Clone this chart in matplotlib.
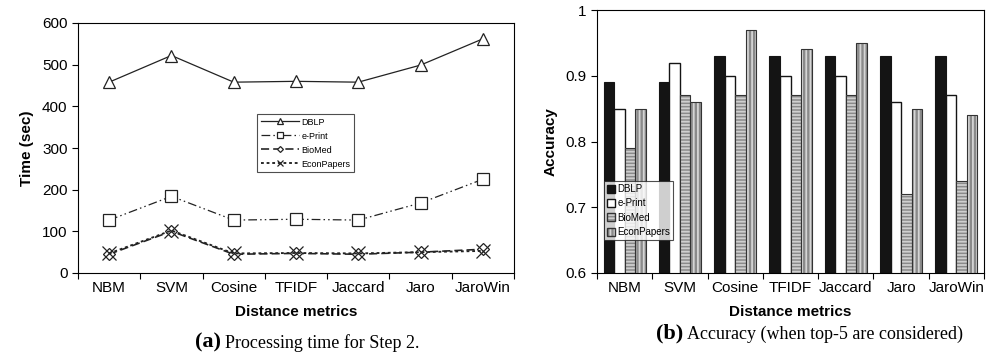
import matplotlib
matplotlib.use("Agg")
import matplotlib.pyplot as plt
import numpy as np
from matplotlib.patches import Patch
from matplotlib.ticker import FuncFormatter, FixedLocator

plt.rcParams['font.family'] = ['Liberation Sans', 'DejaVu Sans']

categories = ["NBM", "SVM", "Cosine", "TFIDF", "Jaccard", "Jaro", "JaroWin"]
series_names = ["DBLP", "e-Print", "BioMed", "EconPapers"]

time_dblp = [458, 522, 458, 460, 458, 499, 562]
time_eprint = [127, 184, 127, 129, 127, 168, 225]
time_biomed = [45, 100, 45, 47, 45, 50, 57]
time_econ = [47, 102, 47, 48, 47, 50, 53]

acc_dblp = [0.89, 0.89, 0.93, 0.93, 0.93, 0.93, 0.93]
acc_eprint = [0.85, 0.92, 0.90, 0.90, 0.90, 0.86, 0.87]
acc_biomed = [0.79, 0.87, 0.87, 0.87, 0.87, 0.72, 0.74]
acc_econ = [0.85, 0.86, 0.97, 0.94, 0.95, 0.85, 0.84]

W, H = 994, 355
fig = plt.figure(figsize=(W / 100, H / 100), dpi=100)
FS = 11

# ---------------- Left: processing time ----------------
ax1 = fig.add_axes([78 / W, 82 / H, 436 / W, 250 / H])
x = np.arange(len(categories))
lw = 0.9
ax1.plot(x, time_dblp, color='#222222', lw=lw, ls='-', marker='^', ms=9,
         mfc='white', mec='#222222', mew=0.9, label=series_names[0])
ax1.plot(x, time_eprint, color='#222222', lw=lw, ls=(0, (7, 2.5, 1.2, 2.5, 1.2, 2.5)),
         marker='s', ms=9, mfc='white', mec='#222222', mew=0.9, label=series_names[1])
ax1.plot(x, time_biomed, color='#222222', lw=lw * 1.3, ls=(0, (5, 2.5)),
         marker='D', ms=6, mfc='white', mec='#222222', mew=0.9, label=series_names[2])
ax1.plot(x, time_econ, color='#222222', lw=lw * 1.5, ls=(0, (1.5, 1.5)),
         marker='x', ms=10, mec='#222222', mew=0.9, label=series_names[3])
ax1.set_xlim(-0.5, len(categories) - 0.5)
ax1.set_ylim(0, 600)
ax1.set_yticks([0, 100, 200, 300, 400, 500, 600])
ax1.set_xticks(x)
ax1.set_xticklabels(categories)
ax1.xaxis.set_minor_locator(FixedLocator(np.arange(-0.5, len(categories), 1.0)))
ax1.tick_params(axis='x', which='major', length=0, labelsize=FS, pad=6)
ax1.tick_params(axis='x', which='minor', length=4, direction='out', width=0.8)
ax1.tick_params(axis='y', length=4, direction='out', labelsize=FS, width=0.8)
for s in ax1.spines.values():
    s.set_linewidth(0.8)
ax1.set_ylabel("Time (sec)", fontsize=FS, fontweight='bold', labelpad=6)
ax1.set_xlabel("Distance metrics", fontsize=FS, fontweight='bold', labelpad=7)
leg1 = ax1.legend(loc='upper left', bbox_to_anchor=((257 - 78) / 436, (273 - 114) / 250),
                  fontsize=6.5, markerscale=0.5, frameon=True, fancybox=False,
                  edgecolor='#222222', handlelength=4.2, borderpad=0.4,
                  labelspacing=0.55, handletextpad=0.3, borderaxespad=0)
leg1.get_frame().set_linewidth(0.8)

# ---------------- Right: accuracy ----------------
ax2 = fig.add_axes([597 / W, 82 / H, 387 / W, 263 / H])
bw = 0.19
offsets = np.array([-1.5, -0.5, 0.5, 1.5]) * bw
gray = '#8a8a8a'
plt.rcParams['hatch.linewidth'] = 1.3
ax2.bar(x + offsets[0], acc_dblp, bw, color='#141414', edgecolor='#141414', lw=0.8)
ax2.bar(x + offsets[1], acc_eprint, bw, color='white', edgecolor='#141414', lw=1.0)
ax2.bar(x + offsets[2], acc_biomed, bw, color=gray, edgecolor='#cfcfcf', lw=0, hatch='-----')
ax2.bar(x + offsets[2], acc_biomed, bw, fill=False, edgecolor='#333333', lw=0.8)
ax2.bar(x + offsets[3], acc_econ, bw, color=gray, edgecolor='#d5d5d5', lw=0, hatch='||||')
ax2.bar(x + offsets[3], acc_econ, bw, fill=False, edgecolor='#333333', lw=0.8)
ax2.set_xlim(-0.5, len(categories) - 0.5)
ax2.set_ylim(0.6, 1.0)
ax2.set_yticks([0.6, 0.7, 0.8, 0.9, 1.0])
ax2.yaxis.set_major_formatter(FuncFormatter(lambda v, p: "1" if abs(v - 1) < 1e-9 else f"{v:.1f}"))
ax2.set_xticks(x)
ax2.set_xticklabels(categories)
ax2.xaxis.set_minor_locator(FixedLocator(np.arange(-0.5, len(categories), 1.0)))
ax2.tick_params(axis='x', which='major', length=0, labelsize=FS, pad=6)
ax2.tick_params(axis='x', which='minor', length=4, direction='out', width=0.8)
ax2.tick_params(axis='y', length=4, direction='out', labelsize=FS, width=0.8)
for s in ax2.spines.values():
    s.set_linewidth(0.8)
ax2.set_ylabel("Accuracy", fontsize=FS, fontweight='bold', labelpad=6)
ax2.set_xlabel("Distance metrics", fontsize=FS, fontweight='bold', labelpad=7)
h1 = Patch(facecolor='#141414', edgecolor='#141414')
h2 = Patch(facecolor='white', edgecolor='#141414')
h3 = (Patch(facecolor=gray, edgecolor='#cfcfcf', lw=0, hatch='-----'),
      Patch(fill=False, edgecolor='#333333'))
h4 = (Patch(facecolor=gray, edgecolor='#d5d5d5', lw=0, hatch='||||'),
      Patch(fill=False, edgecolor='#333333'))
leg2 = ax2.legend([h1, h2, h3, h4], series_names, loc='upper left',
                  bbox_to_anchor=((604 - 597) / 387, (273 - 181) / 263),
                  fontsize=7, frameon=True, fancybox=False, edgecolor='#222222',
                  handlelength=0.8, handleheight=0.9, borderpad=0.3,
                  labelspacing=0.45, handletextpad=0.3, borderaxespad=0)
leg2.get_frame().set_linewidth(0.8)

# ---------------- Captions ----------------
fig.text(221 / W, 1 - 342 / H, "(a)", family='Liberation Serif', fontweight='bold',
         fontsize=16, ha='right', va='center')
fig.text(225 / W, 1 - 343 / H, "Processing time for Step 2.", family='Liberation Serif',
         fontsize=13, ha='left', va='center')
fig.text(683 / W, 1 - 333 / H, "(b)", family='Liberation Serif', fontweight='bold',
         fontsize=16, ha='right', va='center')
fig.text(687 / W, 1 - 334 / H, "Accuracy (when top-5 are considered)", family='Liberation Serif',
         fontsize=13, ha='left', va='center')

fig.savefig("out.png", dpi=100)
